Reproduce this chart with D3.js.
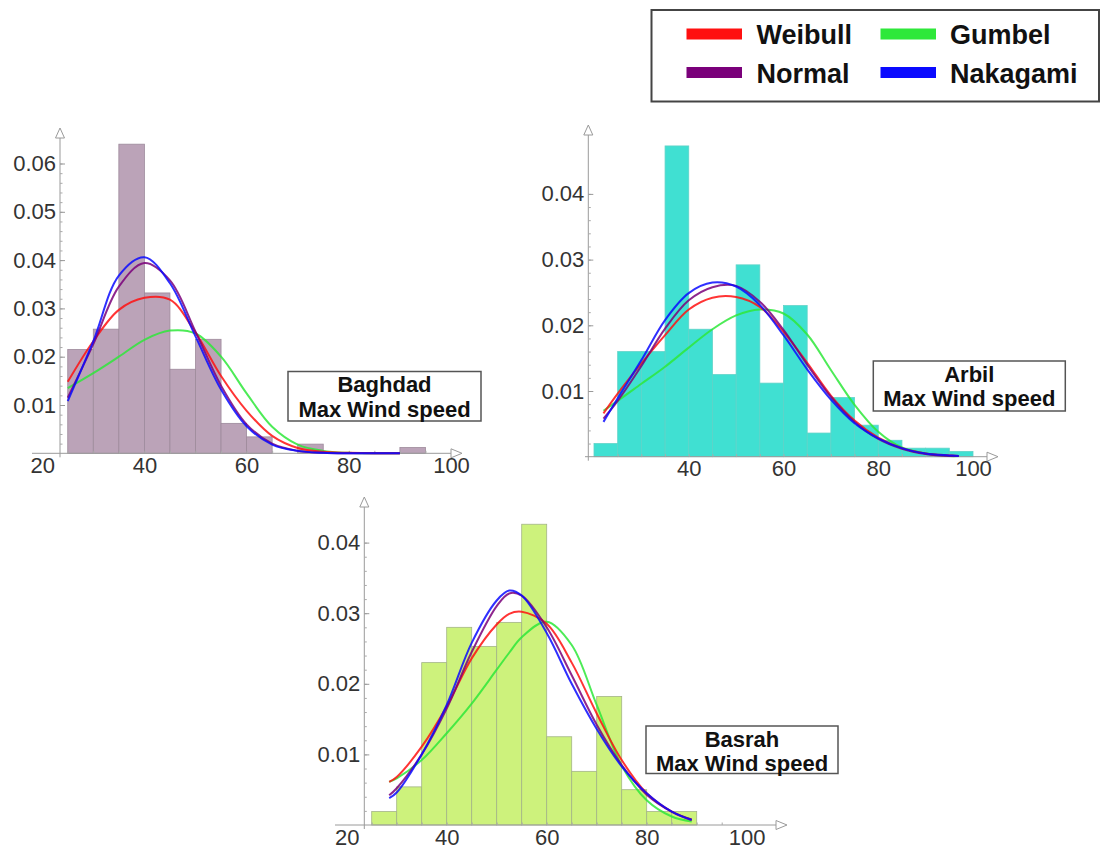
<!DOCTYPE html>
<html><head><meta charset="utf-8">
<script src="https://cdn.jsdelivr.net/npm/d3@7"></script>
<style>body{margin:0;background:#fff}svg{display:block}</style>
</head><body>
<svg id="chart" width="1105" height="854"></svg>
<script>
// ---------- data ----------
const seriesNames = ["Weibull", "Gumbel", "Normal", "Nakagami"];
const binWidth = 5;

const baghdadBinStarts = [25,30,35,40,45,50,55,60,65,70,75,80,85,90];
const baghdadDensity   = [0.0215,0.0257,0.0640,0.0332,0.0174,0.0236,0.0062,0.0034,0,0.0019,0,0,0,0.0012];
const baghdadCurveX    = [25,30,35,40,45,50,55,60,65,70,75,80,85,90];
const baghdadWeibull   = [0.0148,0.0232,0.0297,0.0322,0.0318,0.0250,0.0160,0.0088,0.0036,0.0011,0.0003,0.0001,0,0];
const baghdadGumbel    = [0.0135,0.0166,0.0200,0.0235,0.0254,0.0248,0.0200,0.0124,0.0055,0.0018,0.0005,0.0001,0,0];
const baghdadNormal    = [0.0115,0.0226,0.0345,0.0394,0.0358,0.0252,0.0140,0.0060,0.0020,0.0005,0.0001,0,0,0];
const baghdadNakagami  = [0.0108,0.0232,0.0368,0.0406,0.0352,0.0242,0.0132,0.0056,0.0018,0.0005,0.0001,0,0,0];

const arbilBinStarts = [20,25,30,35,40,45,50,55,60,65,70,75,80,85,90,95];
const arbilDensity   = [0.0020,0.0160,0.0160,0.0473,0.0194,0.0125,0.0292,0.0112,0.0230,0.0036,0.0090,0.0048,0.0025,0.0013,0.0013,0.0008];
const arbilCurveX    = [22,25,30,35,40,45,50,55,60,65,70,75,80,85,90,95,97];
const arbilWeibull   = [0.0066,0.0096,0.0142,0.0185,0.0224,0.0242,0.0243,0.0228,0.0190,0.0143,0.0093,0.0055,0.0029,0.0013,0.0005,0.0002,0.0001];
const arbilGumbel    = [0.0070,0.0085,0.0111,0.0137,0.0166,0.0194,0.0215,0.0224,0.0218,0.0186,0.0132,0.0079,0.0038,0.0014,0.0005,0.0001,0.0001];
const arbilNormal    = [0.0058,0.0085,0.0138,0.0195,0.0238,0.0258,0.0260,0.0236,0.0193,0.0140,0.0091,0.0053,0.0027,0.0012,0.0004,0.0001,0.0001];
const arbilNakagami  = [0.0053,0.0089,0.0147,0.0208,0.0249,0.0265,0.0259,0.0231,0.0185,0.0133,0.0087,0.0051,0.0028,0.0013,0.0005,0.0002,0.0001];

const basrahBinStarts = [25,30,35,40,45,50,55,60,65,70,75,80,85];
const basrahDensity   = [0.0019,0.0054,0.0230,0.0280,0.0253,0.0287,0.0426,0.0125,0.0076,0.0182,0.0050,0.0019,0.0019];
const basrahCurveX    = [28.5,30,35,40,45,50,52.5,55,60,65,70,75,80,85,89];
const basrahWeibull   = [0.0061,0.0068,0.0111,0.0168,0.0236,0.0284,0.0299,0.0302,0.0285,0.0230,0.0158,0.0092,0.0045,0.0019,0.0007];
const basrahGumbel    = [0.0061,0.0066,0.0092,0.0130,0.0172,0.0220,0.0244,0.0266,0.0288,0.0255,0.0170,0.0084,0.0035,0.0012,0.0005];
const basrahNormal    = [0.0042,0.0052,0.0100,0.0165,0.0245,0.0310,0.0328,0.0325,0.0280,0.0212,0.0142,0.0085,0.0043,0.0019,0.0008];
const basrahNakagami  = [0.0038,0.0046,0.0100,0.0170,0.0258,0.0318,0.0332,0.0325,0.0272,0.0200,0.0136,0.0083,0.0045,0.0019,0.0007];

const xTickLabelsFull  = [20,40,60,80,100];
const xTickLabelsArbil = [40,60,80,100];
const yTicksBaghdad = [0.01,0.02,0.03,0.04,0.05,0.06];
const yTicksArbil   = [0.01,0.02,0.03,0.04];
const yTicksBasrah  = [0.01,0.02,0.03,0.04];

// ---------- style ----------
const seriesColors = {Weibull:"#ff1010", Gumbel:"#2ee83a", Normal:"#7a007a", Nakagami:"#0a0aff"};
const drawOrder = ["Gumbel","Weibull","Normal","Nakagami"];
const FONT = "'Liberation Sans', Arial, sans-serif";

const panels = [
  { city:"Baghdad", starts:baghdadBinStarts, dens:baghdadDensity, cx:baghdadCurveX,
    curves:{Weibull:baghdadWeibull,Gumbel:baghdadGumbel,Normal:baghdadNormal,Nakagami:baghdadNakagami},
    xTicks:xTickLabelsFull, yTicks:yTicksBaghdad, yMax:0.06,
    xr:[42.2,451], y0:453.3, yTopPx:163.5, axisX:60, xAxisFrom:32, xAxisTo:462, yAxisTo:128,
    fill:"#bba3b8", edge:"#9d8a9b",
    box:{x:288,y:371.5,w:193,h:49.5} },
  { city:"Arbil", starts:arbilBinStarts, dens:arbilDensity, cx:arbilCurveX,
    curves:{Weibull:arbilWeibull,Gumbel:arbilGumbel,Normal:arbilNormal,Nakagami:arbilNakagami},
    xTicks:xTickLabelsArbil, yTicks:yTicksArbil, yMax:0.04,
    xr:[594,973], y0:456.7, yTopPx:193.9, axisX:588.3, xAxisFrom:585, xAxisTo:998, yAxisTo:125,
    fill:"#40e0d2", edge:"#5fd3c8",
    box:{x:873.3,y:361,w:192,h:50} },
  { city:"Basrah", starts:basrahBinStarts, dens:basrahDensity, cx:basrahCurveX,
    curves:{Weibull:basrahWeibull,Gumbel:basrahGumbel,Normal:basrahNormal,Nakagami:basrahNakagami},
    xTicks:xTickLabelsFull, yTicks:yTicksBasrah, yMax:0.04,
    xr:[346.7,746.7], y0:825, yTopPx:542.6, axisX:364.3, xAxisFrom:335, xAxisTo:787, yAxisTo:497,
    fill:"#cdf27c", edge:"#a3b487",
    box:{x:646,y:726,w:192,h:47.5} }
];

const svg = d3.select("#chart");
svg.append("rect").attr("width",1105).attr("height",854).attr("fill","#fff");

panels.forEach(p => {
  const x = d3.scaleLinear().domain([20,100]).range(p.xr);
  const y = d3.scaleLinear().domain([0,p.yMax]).range([p.y0,p.yTopPx]);
  const g = svg.append("g");

  // bars
  g.append("g").selectAll("rect").data(p.starts.map((s,i)=>({s, v:p.dens[i]})).filter(d=>d.v>0))
    .join("rect")
    .attr("x", d=>x(d.s)).attr("width", d=>x(d.s+binWidth)-x(d.s))
    .attr("y", d=>y(d.v)).attr("height", d=>y(0)-y(d.v))
    .attr("fill", p.fill).attr("stroke", p.edge).attr("stroke-width",0.8);

  // axes lines
  const ax = g.append("g").attr("stroke","#9a9a9a").attr("fill","none").attr("stroke-width",1);
  ax.append("line").attr("x1",p.xAxisFrom).attr("x2",p.xAxisTo-11).attr("y1",y(0)).attr("y2",y(0));
  ax.append("line").attr("x1",p.axisX).attr("x2",p.axisX).attr("y1",y(0)+4).attr("y2",p.yAxisTo+10);
  ax.append("path").attr("d",`M${p.xAxisTo-11},${y(0)-4.5}L${p.xAxisTo},${y(0)}L${p.xAxisTo-11},${y(0)+4.5}Z`);
  ax.append("path").attr("d",`M${p.axisX-4.5},${p.yAxisTo+10}L${p.axisX},${p.yAxisTo}L${p.axisX+4.5},${p.yAxisTo+10}Z`);

  const yMinor = d3.range(0.002, p.yMax+0.0001, 0.002);
  const yt = g.append("g").attr("transform",`translate(${p.axisX},0)`)
    .call(d3.axisRight(y).tickValues(yMinor).tickSize(2.5).tickFormat(""));
  yt.select(".domain").remove();
  yt.selectAll("line").attr("stroke","#aaa");
  const ytM = g.append("g").attr("transform",`translate(${p.axisX},0)`)
    .call(d3.axisRight(y).tickValues(p.yTicks).tickSize(5).tickFormat(""));
  ytM.select(".domain").remove();
  ytM.selectAll("line").attr("stroke","#999");

  const yl = g.append("g").attr("transform",`translate(${p.axisX},0)`)
    .call(d3.axisLeft(y).tickValues(p.yTicks).tickSize(0).tickPadding(4).tickFormat(d3.format(".2f")));
  yl.select(".domain").remove();
  yl.selectAll("text").attr("font-size",22).attr("font-family",FONT).attr("fill","#333");

  const xt = g.append("g").attr("transform",`translate(0,${y(0)})`)
    .call(d3.axisTop(x).tickValues(d3.range(25,100,5).filter(v=>x(v)>p.axisX)).tickSize(2.5).tickFormat(""));
  xt.select(".domain").remove();
  xt.selectAll("line").attr("stroke","#aaa");
  const xl = g.append("g").attr("transform",`translate(0,${y(0)})`)
    .call(d3.axisBottom(x).tickValues(p.xTicks).tickSize(0).tickPadding(4));
  xl.select(".domain").remove();
  xl.selectAll("text").attr("font-size",22).attr("font-family",FONT).attr("fill","#333");

  const line = d3.line().x(d=>x(d[0])).y(d=>y(Math.max(0,d[1]))).curve(d3.curveCatmullRom.alpha(0.5));
  drawOrder.forEach(name => {
    g.append("path").datum(p.cx.map((xv,i)=>[xv, p.curves[name][i]]))
      .attr("d", line).attr("fill","none")
      .attr("stroke", seriesColors[name]).attr("stroke-width",2).attr("stroke-opacity",0.85);
  });

  const b = p.box;
  g.append("rect").attr("x",b.x).attr("y",b.y).attr("width",b.w).attr("height",b.h)
    .attr("fill","#fff").attr("stroke","#555").attr("stroke-width",1.5);
  const t = g.append("text").attr("font-family",FONT).attr("font-weight","bold").attr("font-size",22)
    .attr("fill","#111").attr("text-anchor","middle");
  t.append("tspan").attr("x",b.x+b.w/2).attr("y",b.y+20.5).text(p.city);
  t.append("tspan").attr("x",b.x+b.w/2).attr("y",b.y+45).text("Max Wind speed");
});

// legend
const lg = svg.append("g");
lg.append("rect").attr("x",651.5).attr("y",10).attr("width",447.5).attr("height",91.5)
  .attr("fill","#fff").attr("stroke","#444").attr("stroke-width",2);
const legendItems = [
  {name:"Weibull", col:0, row:0}, {name:"Gumbel", col:1, row:0},
  {name:"Normal", col:0, row:1}, {name:"Nakagami", col:1, row:1}
];
const colX = [686.5, 880.5], textX = [756.5, 950], rowY = [34, 72.5];
legendItems.forEach(it => {
  lg.append("rect").attr("x",colX[it.col]).attr("y",rowY[it.row]-5.5).attr("width",55.5).attr("height",11)
    .attr("fill",seriesColors[it.name]);
  lg.append("text").attr("x",textX[it.col]).attr("y",rowY[it.row]+10)
    .attr("font-family",FONT).attr("font-weight","bold").attr("font-size",27).attr("fill","#111")
    .text(it.name);
});
</script>
</body></html>
